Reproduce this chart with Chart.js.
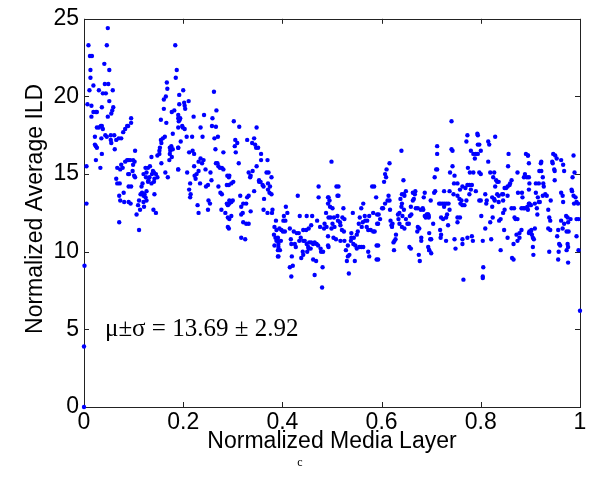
<!DOCTYPE html>
<html>
<head>
<meta charset="utf-8">
<script src="https://cdn.jsdelivr.net/npm/chart.js@4/dist/chart.umd.min.js"></script>
<style>
html,body{margin:0;padding:0;background:#fff;}
#wrap{width:601px;height:488px;position:relative;}
canvas{display:block;}
</style>
</head>
<body>
<div id="wrap"><canvas id="c" width="601" height="488"></canvas></div>
<script>
// ---- data: [normalized media layer, normalized average ILD] ----
const band1 = [[0,0],[0,3.9],[0.001,9.1],[0.005,13.1],[0.005,15.5],[0.048,24.4],[0.009,23.3],[0.046,23.3],[0.012,22.6],[0.016,22.6],[0.041,22.1],[0.013,21.7],[0.051,21.7],[0.013,21.2],[0.019,20.7],[0.042,20.8],[0.049,20.8],[0.030,20.4],[0.011,20.4],[0.038,20.2],[0.044,20.2],[0.058,20.4],[0.051,19.7],[0.007,19.5],[0.015,19.4],[0.036,19.3],[0.059,19.3],[0.057,19.1],[0.055,18.9],[0.019,19.0],[0.024,19.0],[0.026,19.0],[0.048,18.7],[0.015,18.7],[0.034,18.1],[0.036,18.1],[0.030,18.0],[0.026,18.0],[0.038,17.9],[0.087,18.1],[0.083,17.9],[0.079,17.7],[0.061,17.5],[0.054,17.5],[0.022,17.4],[0.035,17.3],[0.043,17.5],[0.046,17.4],[0.070,17.3],[0.075,17.3],[0.065,17.2],[0.054,17.2],[0.055,17.0],[0.022,16.9],[0.024,16.8],[0.026,16.7],[0.062,16.6],[0.036,16.3],[0.024,15.9],[0.033,15.4],[0.087,15.9],[0.083,15.8],[0.075,15.6],[0.078,15.4],[0.067,15.4],[0.073,15.3],[0.089,15.0],[0.065,14.7],[0.067,14.4],[0.072,14.4],[0.090,14.2],[0.080,13.8],[0.071,13.6],[0.073,13.3],[0.081,13.2],[0.090,13.2],[0.071,11.9]];
const band2 = [[0.184,23.3],[0.187,21.7],[0.185,21.2],[0.167,20.9],[0.168,20.5],[0.165,20.0],[0.161,19.8],[0.192,19.5],[0.161,19.2],[0.182,19.1],[0.177,19.0],[0.190,18.6],[0.193,18.5],[0.095,18.6],[0.095,18.3],[0.155,18.5],[0.166,18.3],[0.089,18.1],[0.163,17.4],[0.159,17.3],[0.155,17.2],[0.156,17.0],[0.179,17.6],[0.153,16.7],[0.152,16.5],[0.176,16.8],[0.173,16.7],[0.179,16.6],[0.174,16.5],[0.190,16.7],[0.103,16.5],[0.152,16.3],[0.148,16.2],[0.173,16.3],[0.177,16.1],[0.172,15.9],[0.089,15.9],[0.093,15.9],[0.099,15.9],[0.102,15.8],[0.136,16.1],[0.156,15.7],[0.099,15.6],[0.124,15.4],[0.129,15.4],[0.133,15.5],[0.098,15.2],[0.139,15.2],[0.141,15.1],[0.137,15.0],[0.120,15.0],[0.126,15.1],[0.125,14.8],[0.132,14.8],[0.145,15.0],[0.148,14.8],[0.142,14.7],[0.141,14.5],[0.091,15.0],[0.101,14.9],[0.103,14.8],[0.118,14.4],[0.136,14.4],[0.130,14.6],[0.129,14.5],[0.095,14.2],[0.116,14.2],[0.169,14.8],[0.164,15.1],[0.117,13.8],[0.114,13.7],[0.120,13.6],[0.122,13.7],[0.142,13.7],[0.126,13.9],[0.124,13.5],[0.094,13.1],[0.111,13.3],[0.109,13.0],[0.120,13.2],[0.126,13.3],[0.121,12.9],[0.113,12.7],[0.106,12.4],[0.140,12.7],[0.145,12.5],[0.111,11.4],[0.190,15.3]];
const band3 = [[0.200,20.4],[0.192,20.1],[0.203,19.4],[0.204,19.2],[0.211,19.7],[0.202,19.6],[0.194,18.6],[0.191,18.4],[0.221,18.7],[0.242,18.8],[0.262,20.3],[0.267,19.1],[0.259,18.6],[0.258,18.1],[0.266,18.05],[0.263,17.3],[0.270,17.4],[0.198,18.1],[0.203,17.9],[0.199,18.0],[0.235,18.0],[0.195,17.1],[0.207,17.4],[0.218,17.4],[0.239,17.4],[0.190,16.7],[0.212,16.4],[0.219,16.5],[0.222,16.3],[0.235,16.0],[0.231,15.8],[0.241,15.9],[0.238,15.7],[0.265,16.6],[0.281,16.4],[0.266,15.7],[0.269,15.7],[0.271,15.5],[0.274,15.4],[0.278,15.4],[0.281,15.3],[0.222,15.5],[0.245,15.3],[0.231,15.2],[0.227,15.0],[0.223,14.9],[0.208,15.1],[0.190,15.3],[0.255,15.1],[0.225,14.7],[0.257,14.6],[0.289,14.9],[0.293,14.9],[0.214,14.4],[0.212,14.0],[0.215,13.7],[0.214,13.5],[0.234,14.4],[0.250,14.3],[0.246,14.2],[0.271,14.2],[0.288,14.3],[0.292,14.3],[0.275,13.8],[0.278,13.7],[0.251,13.3],[0.254,13.1],[0.229,13.0],[0.231,12.5],[0.250,12.7],[0.277,12.7],[0.288,13.1],[0.290,13.0],[0.285,12.5],[0.290,12.2],[0.292,11.5],[0.190,18.0],[0.190,18.8]];
const band4 = [[0.302,18.4],[0.313,18.05],[0.348,18.0],[0.305,17.2],[0.309,17.0],[0.304,16.8],[0.306,16.4],[0.329,17.2],[0.343,17.3],[0.345,16.9],[0.339,17.0],[0.351,16.7],[0.347,16.7],[0.357,16.3],[0.312,15.7],[0.357,15.9],[0.370,15.9],[0.348,15.5],[0.332,15.1],[0.340,15.2],[0.336,14.9],[0.335,14.8],[0.372,15.1],[0.368,15.1],[0.353,14.6],[0.356,14.5],[0.360,14.3],[0.353,14.5],[0.378,14.8],[0.362,14.2],[0.292,14.8],[0.297,14.4],[0.301,14.5],[0.371,14.4],[0.375,14.2],[0.371,14.0],[0.374,13.8],[0.378,13.7],[0.343,13.9],[0.332,13.6],[0.329,13.5],[0.315,13.6],[0.363,13.4],[0.293,13.3],[0.300,13.3],[0.297,13.2],[0.293,13.1],[0.321,13.1],[0.327,13.1],[0.317,12.9],[0.336,12.6],[0.362,12.7],[0.370,12.5],[0.380,12.7],[0.379,12.5],[0.320,12.5],[0.317,12.4],[0.297,12.3],[0.293,12.1],[0.321,11.9],[0.327,11.8],[0.332,11.8],[0.290,11.6],[0.387,12.0],[0.384,11.6],[0.388,11.4],[0.383,11.1],[0.386,10.9],[0.388,10.7],[0.391,10.7],[0.392,10.5],[0.391,10.1],[0.384,10.4],[0.392,9.7],[0.317,10.9],[0.325,10.8]];
const band5 = [[0.473,14.2],[0.431,13.6],[0.473,13.5],[0.493,13.5],[0.492,13.1],[0.407,12.9],[0.410,12.5],[0.403,12.3],[0.402,12.0],[0.406,12.0],[0.435,12.3],[0.449,12.3],[0.460,12.3],[0.470,12.0],[0.488,12.5],[0.493,12.2],[0.485,11.8],[0.489,11.6],[0.394,11.5],[0.398,11.4],[0.401,11.3],[0.405,11.3],[0.391,10.9],[0.397,10.7],[0.415,11.5],[0.423,11.3],[0.429,11.2],[0.433,11.2],[0.442,11.4],[0.448,11.4],[0.453,11.5],[0.458,11.7],[0.476,11.6],[0.484,11.5],[0.434,10.7],[0.437,10.9],[0.417,10.8],[0.418,10.5],[0.425,10.5],[0.427,10.3],[0.442,10.7],[0.445,10.7],[0.449,10.5],[0.454,10.6],[0.458,10.6],[0.462,10.5],[0.465,10.6],[0.469,10.5],[0.472,10.4],[0.452,10.3],[0.457,10.2],[0.392,10.3],[0.395,10.1],[0.391,9.7],[0.419,9.7],[0.441,10.0],[0.442,9.8],[0.438,9.6],[0.450,10.0],[0.453,10.2],[0.477,10.2],[0.478,10.0],[0.482,10.0],[0.493,10.3],[0.462,9.5],[0.468,9.4],[0.481,9.0],[0.415,9.0],[0.421,9.1],[0.418,8.4],[0.465,8.5],[0.480,7.7]];
const band6 = [[0.499,15.8],[0.509,14.2],[0.513,14.2],[0.511,13.6],[0.513,13.6],[0.492,13.5],[0.495,13.3],[0.496,12.9],[0.501,12.8],[0.523,12.8],[0.511,12.3],[0.497,12.2],[0.504,12.2],[0.512,12.0],[0.516,11.9],[0.521,12.2],[0.525,12.1],[0.501,11.8],[0.505,11.6],[0.517,11.7],[0.520,11.4],[0.524,11.3],[0.499,11.5],[0.492,11.0],[0.503,10.9],[0.508,10.8],[0.517,10.7],[0.525,10.7],[0.492,10.4],[0.532,10.4],[0.542,12.5],[0.559,12.8],[0.563,13.1],[0.556,12.2],[0.566,12.3],[0.575,12.3],[0.583,12.5],[0.591,12.4],[0.581,14.2],[0.585,14.2],[0.589,13.5],[0.554,11.8],[0.562,11.9],[0.567,12.0],[0.571,12.0],[0.560,11.6],[0.570,11.6],[0.573,11.4],[0.578,11.4],[0.583,11.3],[0.586,11.3],[0.591,11.8],[0.539,11.2],[0.539,10.9],[0.544,10.9],[0.550,11.1],[0.552,11.3],[0.538,10.7],[0.543,10.5],[0.547,10.4],[0.550,10.2],[0.555,10.3],[0.559,10.3],[0.563,10.3],[0.528,10.1],[0.535,9.8],[0.532,9.7],[0.530,9.4],[0.546,9.4],[0.573,10.0],[0.575,9.7],[0.590,10.4],[0.590,9.5],[0.534,8.6]];
const band7 = [[0.640,16.5],[0.616,15.7],[0.610,15.3],[0.607,15.0],[0.609,14.8],[0.605,14.5],[0.614,13.6],[0.612,13.3],[0.616,13.3],[0.607,13.1],[0.601,12.8],[0.603,12.8],[0.594,12.4],[0.597,12.1],[0.593,11.8],[0.617,12.7],[0.618,12.0],[0.620,11.7],[0.622,11.8],[0.621,11.6],[0.629,11.1],[0.628,10.8],[0.624,10.6],[0.626,10.7],[0.625,10.1],[0.593,10.4],[0.593,9.5],[0.644,14.6],[0.649,13.9],[0.645,13.7],[0.641,13.7],[0.638,13.4],[0.646,13.6],[0.641,13.1],[0.640,12.9],[0.636,12.5],[0.633,12.4],[0.634,12.1],[0.642,12.3],[0.645,12.7],[0.636,11.8],[0.641,11.6],[0.646,11.5],[0.652,11.8],[0.655,11.8],[0.657,12.3],[0.659,12.9],[0.660,12.4],[0.663,13.3],[0.665,13.4],[0.668,13.9],[0.667,13.7],[0.663,13.8],[0.669,12.8],[0.673,12.8],[0.679,12.7],[0.683,12.8],[0.687,13.8],[0.685,13.5],[0.684,12.7],[0.687,12.3],[0.689,12.2],[0.693,12.4],[0.695,12.3],[0.691,12.4],[0.673,11.6],[0.676,11.5],[0.672,11.3],[0.680,10.9],[0.680,10.7],[0.675,9.8],[0.677,9.4],[0.656,10.3],[0.659,10.2],[0.696,11.2],[0.696,10.1],[0.649,12.1]];
const band8 = [[0.741,18.4],[0.712,16.8],[0.712,16.3],[0.741,16.6],[0.743,16.5],[0.773,17.5],[0.771,17.1],[0.793,17.6],[0.794,16.9],[0.780,16.5],[0.785,16.3],[0.788,16.0],[0.790,16.3],[0.710,15.3],[0.712,15.3],[0.707,14.8],[0.738,15.1],[0.747,14.9],[0.743,15.5],[0.774,15.4],[0.778,15.1],[0.785,15.1],[0.797,15.1],[0.699,13.3],[0.706,13.8],[0.708,13.9],[0.726,13.9],[0.737,13.9],[0.746,14.4],[0.753,14.4],[0.758,14.0],[0.763,14.2],[0.769,14.1],[0.773,14.3],[0.777,14.3],[0.782,14.3],[0.780,14.0],[0.790,13.9],[0.745,13.7],[0.753,13.6],[0.757,13.4],[0.761,13.3],[0.763,13.0],[0.759,13.1],[0.767,13.0],[0.771,13.3],[0.777,13.7],[0.716,13.1],[0.719,13.1],[0.723,13.1],[0.727,13.1],[0.731,13.1],[0.735,13.1],[0.726,12.9],[0.737,12.7],[0.732,12.4],[0.720,12.2],[0.724,12.1],[0.730,12.2],[0.694,12.4],[0.695,12.2],[0.704,11.8],[0.734,11.7],[0.753,12.2],[0.758,12.2],[0.753,11.9],[0.718,11.4],[0.720,11.1],[0.719,10.9],[0.730,10.7],[0.700,10.8],[0.698,10.8],[0.696,10.1],[0.700,9.9],[0.747,10.8],[0.749,10.2],[0.763,10.8],[0.763,10.5],[0.773,10.9],[0.782,11.0],[0.784,10.7],[0.797,13.3],[0.765,8.2],[0.694,10.3]];
const band9 = [[0.794,17.5],[0.797,16.9],[0.800,16.5],[0.794,16.3],[0.817,16.9],[0.815,17.1],[0.829,17.4],[0.815,15.8],[0.800,15.0],[0.819,15.1],[0.827,15.1],[0.825,14.8],[0.831,14.6],[0.833,14.5],[0.836,14.5],[0.829,14.2],[0.856,16.3],[0.855,15.5],[0.874,15.1],[0.891,16.3],[0.895,16.2],[0.889,15.0],[0.887,14.8],[0.893,14.8],[0.862,14.6],[0.859,14.4],[0.858,14.3],[0.854,14.2],[0.851,14.1],[0.848,14.1],[0.809,13.7],[0.812,13.3],[0.811,13.1],[0.800,13.3],[0.823,13.5],[0.827,13.4],[0.833,13.7],[0.836,13.6],[0.843,13.7],[0.845,13.7],[0.854,13.6],[0.836,13.2],[0.828,13.3],[0.845,13.3],[0.848,12.7],[0.845,12.5],[0.823,12.9],[0.862,12.8],[0.867,12.8],[0.882,12.8],[0.886,12.8],[0.889,12.8],[0.894,12.9],[0.898,13.1],[0.875,13.8],[0.883,13.8],[0.884,13.5],[0.824,12.2],[0.819,11.9],[0.801,12.3],[0.840,12.1],[0.837,12.0],[0.868,12.2],[0.870,12.1],[0.874,12.1],[0.809,11.5],[0.847,11.4],[0.882,11.4],[0.878,11.2],[0.878,10.9],[0.872,11.1],[0.874,10.7],[0.854,10.9],[0.866,10.5],[0.898,11.3],[0.897,11.2],[0.804,10.7],[0.821,10.8],[0.840,10.1],[0.863,9.6],[0.866,9.5],[0.805,9.0],[0.804,8.4],[0.804,8.3]];
const band10 = [[0.895,16.2],[0.897,15.7],[0.897,14.8],[0.922,15.8],[0.921,15.7],[0.918,15.2],[0.922,15.2],[0.925,14.8],[0.926,14.4],[0.927,14.2],[0.911,14.4],[0.917,14.4],[0.946,16.3],[0.950,16.2],[0.953,16.0],[0.944,15.8],[0.945,15.7],[0.948,15.3],[0.949,15.2],[0.949,14.6],[0.962,15.9],[0.966,15.6],[0.968,15.2],[0.987,16.2],[0.989,15.1],[0.985,14.8],[0.911,13.8],[0.915,13.5],[0.909,13.1],[0.913,12.8],[0.917,13.2],[0.919,13.2],[0.925,13.6],[0.930,13.7],[0.933,13.6],[0.962,13.8],[0.965,13.6],[0.983,14.0],[0.984,13.9],[0.987,13.6],[0.991,13.5],[0.993,13.2],[0.996,13.1],[0.988,13.1],[0.941,13.3],[0.966,13.2],[0.897,13.1],[0.901,13.0],[0.895,12.7],[0.914,12.4],[0.936,12.7],[0.938,12.2],[0.940,12.0],[0.936,11.5],[0.940,11.4],[0.962,12.0],[0.968,11.8],[0.965,11.5],[0.972,12.3],[0.975,12.2],[0.976,11.9],[0.981,12.1],[0.977,11.3],[0.973,11.3],[0.993,12.1],[0.997,12.1],[0.902,11.4],[0.901,11.3],[0.909,11.5],[0.903,11.1],[0.905,10.9],[0.907,10.8],[0.905,10.3],[0.906,9.8],[0.956,11.4],[0.954,11.0],[0.958,10.5],[0.960,10.4],[0.957,10.0],[0.956,9.5],[0.938,10.0],[0.975,10.5],[0.976,10.3],[0.973,10.1],[0.976,9.3],[0.993,11.0],[0.997,10.1],[1.0,6.2],[0.897,14.0],[0.898,14.4]];

const xTickValues = [0, 0.2, 0.4, 0.6, 0.8, 1];
const xTickLabels = ['0', '0.2', '0.4', '0.6', '0.8', '1'];
const yTickValues = [0, 5, 10, 15, 20, 25];
const yTickLabels = ['0', '5', '10', '15', '20', '25'];
const xAxisTitle = 'Normalized Media Layer';
const yAxisTitle = 'Normalized Average ILD';
const meanILD = 13.69;
const stdILD = 2.92;
const panelLabel = 'c';

const allPoints = [].concat(band1, band2, band3, band4, band5, band6, band7, band8, band9, band10)
  .map(p => ({x: p[0], y: p[1]}));

const SANS = '"Liberation Sans", Arial, sans-serif';
const SERIF = '"Liberation Serif", "Times New Roman", serif';

const framePlugin = {
  id: 'frame',
  beforeDatasetsDraw(chart) {
    const {ctx, chartArea: a, scales} = chart;
    ctx.save();
    ctx.strokeStyle = '#222';
    ctx.lineWidth = 1;
    ctx.strokeRect(Math.round(a.left) + 0.5, Math.round(a.top) + 0.5,
                   Math.round(a.right - a.left), Math.round(a.bottom - a.top));
    const tl = 5;
    ctx.beginPath();
    xTickValues.forEach(v => {
      const px = Math.round(scales.x.getPixelForValue(v)) + 0.5;
      ctx.moveTo(px, a.bottom); ctx.lineTo(px, a.bottom - tl);
      ctx.moveTo(px, a.top); ctx.lineTo(px, a.top + tl);
    });
    yTickValues.forEach(v => {
      const py = Math.round(scales.y.getPixelForValue(v)) + 0.5;
      ctx.moveTo(a.left, py); ctx.lineTo(a.left + tl, py);
      ctx.moveTo(a.right, py); ctx.lineTo(a.right - tl, py);
    });
    ctx.stroke();
    ctx.restore();
  },
  afterDraw(chart) {
    const {ctx, chartArea: a} = chart;
    ctx.save();
    ctx.fillStyle = '#000';
    ctx.font = '23px ' + SANS;
    ctx.textAlign = 'center';
    ctx.textBaseline = 'middle';
    ctx.fillText(xAxisTitle, (a.left + a.right) / 2, 442);
    ctx.save();
    ctx.translate(36, (a.top + a.bottom) / 2 - 4);
    ctx.rotate(-Math.PI / 2);
    ctx.fillText(yAxisTitle, 0, 0);
    ctx.restore();
    ctx.font = '25px ' + SERIF;
    ctx.textAlign = 'left';
    ctx.textBaseline = 'middle';
    ctx.fillText('\u03bc\u00b1\u03c3 = ' + meanILD.toFixed(2) + ' \u00b1 ' + stdILD.toFixed(2), 105, 329);
    ctx.font = '12px ' + SERIF;
    ctx.textAlign = 'center';
    ctx.fillText(panelLabel, 300, 463);
    ctx.restore();
  }
};

new Chart(document.getElementById('c'), {
  type: 'scatter',
  data: {
    datasets: [{
      data: allPoints,
      pointRadius: 2.2,
      pointHoverRadius: 2.2,
      pointBackgroundColor: '#0000ff',
      pointBorderWidth: 0,
      borderWidth: 0,
      clip: false
    }]
  },
  options: {
    responsive: false,
    animation: false,
    devicePixelRatio: 1,
    events: [],
    layout: {padding: {left: 0, right: 21, top: 17, bottom: 0}},
    plugins: {legend: {display: false}, tooltip: {enabled: false}},
    scales: {
      x: {
        type: 'linear', min: 0, max: 1,
        afterBuildTicks: s => { s.ticks = xTickValues.map(v => ({value: v})); },
        afterFit: s => { s.height = 81; },
        grid: {display: false, drawTicks: false},
        border: {display: false},
        ticks: {
          callback: (v, i) => xTickLabels[i],
          font: {family: SANS, size: 23},
          color: '#000', padding: 2, maxRotation: 0, autoSkip: false
        }
      },
      y: {
        type: 'linear', min: 0, max: 25,
        afterBuildTicks: s => { s.ticks = yTickValues.map(v => ({value: v})); },
        afterFit: s => { s.width = 84; },
        grid: {display: false, drawTicks: false},
        border: {display: false},
        ticks: {
          callback: (v, i) => yTickLabels[i],
          font: {family: SANS, size: 23},
          color: '#000', padding: 5, autoSkip: false
        }
      }
    }
  },
  plugins: [framePlugin]
});
</script>
</body>
</html>
